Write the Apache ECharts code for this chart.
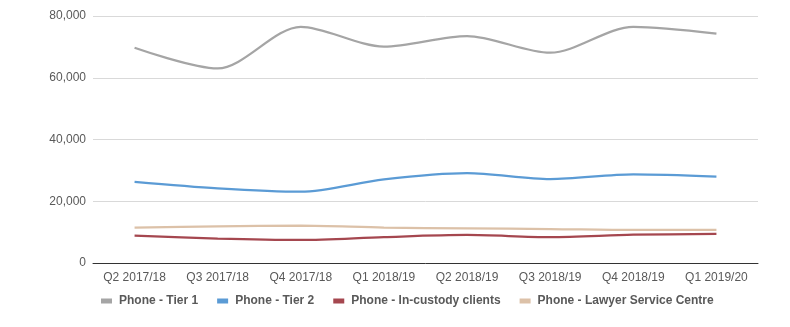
<!DOCTYPE html>
<html><head><meta charset="utf-8">
<script src="https://cdn.jsdelivr.net/npm/echarts@6/dist/echarts.min.js"></script>
<style>html,body{margin:0;padding:0;background:#fff}#c{width:790px;height:327px}</style>
</head><body><div id="c"></div>
<script>
const categories = ["Q2 2017/18","Q3 2017/18","Q4 2017/18","Q1 2018/19","Q2 2018/19","Q3 2018/19","Q4 2018/19","Q1 2019/20"];
const tier1 = [69700, 63000, 76500, 70100, 73500, 68100, 76500, 74300];
const tier2 = [26300, 24200, 23100, 27100, 29100, 27200, 28700, 28000];
const custody = [8850, 7900, 7450, 8400, 9070, 8400, 9170, 9400];
const lawyer = [11450, 11900, 12100, 11450, 11200, 11000, 10700, 10700];
const names = ["Phone - Tier 1","Phone - Tier 2","Phone - In-custody clients","Phone - Lawyer Service Centre"];
const colors = ["#a5a5a5","#5b9bd5","#a5474f","#dcc1a8"];
const font = "Liberation Sans, Arial, sans-serif";
const chart = echarts.init(document.getElementById('c'));
const mk = (n, d, i) => ({name:n, type:'line', data:d, smooth:0.3, symbol:'none',
  lineStyle:{width:2.25, color:colors[i]}, itemStyle:{color:colors[i]}});
chart.setOption({
  animation:false,
  textStyle:{fontFamily:font},
  grid:{left:93, right:32, top:16, bottom:64},
  legend:{left:96, top:290, itemWidth:11, itemHeight:5, itemGap:19, icon:'rect',
    textStyle:{fontFamily:font, fontSize:12, fontWeight:'bold', color:'#595959', padding:[0,0,0,2]},
    data:names},
  xAxis:{type:'category', data:categories, boundaryGap:true,
    axisLine:{lineStyle:{color:'#333', width:1}}, axisTick:{show:false},
    axisLabel:{fontFamily:font, fontSize:12, color:'#595959', margin:9}},
  yAxis:{type:'value', min:0, max:80000, interval:20000,
    axisLine:{show:false}, axisTick:{show:false},
    splitLine:{lineStyle:{color:'#d9d9d9'}},
    axisLabel:{fontFamily:font, fontSize:12, color:'#595959', margin:7,
      formatter:v=>v.toLocaleString('en-US')}},
  series:[mk(names[0],tier1,0), mk(names[1],tier2,1), mk(names[2],custody,2), mk(names[3],lawyer,3)]
});
</script></body></html>
